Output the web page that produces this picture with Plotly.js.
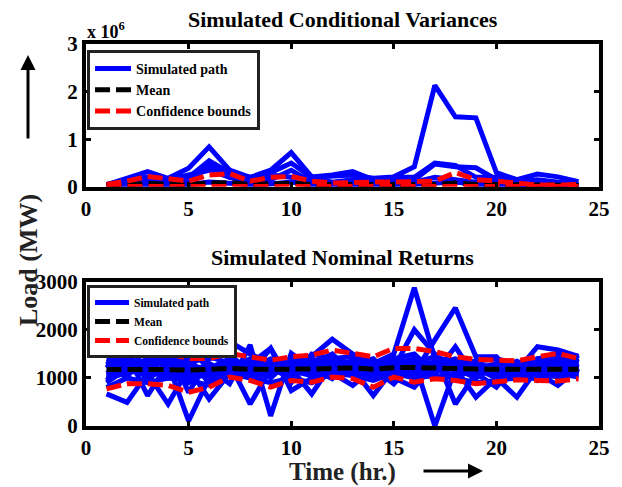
<!DOCTYPE html>
<html>
<head>
<meta charset="utf-8">
<script src="https://cdn.plot.ly/plotly-3.0.1.min.js"></script>
<style>html,body{margin:0;padding:0;background:#fff;}#chart{width:622px;height:487px;}</style>
</head>
<body>
<div id="chart"></div>
<script>
// Hours
const hours = [1,2,3,4,5,6,7,8,9,10,11,12,13,14,15,16,17,18,19,20,21,22,23,24];

// Simulated conditional variances (units of 10^6)
const varPath1 = [0.05,0.15,0.20,0.15,0.25,0.35,0.20,0.15,0.25,0.20,0.20,0.22,0.25,0.18,0.21,0.42,2.13,1.47,1.45,0.30,0.15,0.27,0.21,0.11];
const varPath2 = [0.04,0.18,0.32,0.18,0.39,0.84,0.35,0.20,0.35,0.72,0.21,0.25,0.32,0.15,0.20,0.20,0.50,0.45,0.20,0.20,0.10,0.15,0.10,0.05];
const varPath3 = [0.03,0.10,0.15,0.12,0.20,0.55,0.30,0.20,0.30,0.50,0.20,0.10,0.15,0.10,0.12,0.15,0.48,0.42,0.40,0.15,0.10,0.08,0.06,0.05];
const varPath4 = [0.02,0.08,0.10,0.06,0.10,0.45,0.20,0.10,0.15,0.35,0.10,0.08,0.10,0.08,0.10,0.10,0.20,0.15,0.10,0.10,0.05,0.05,0.04,0.03];
const varPath5 = [0.01,0.03,0.05,0.04,0.05,0.10,0.08,0.05,0.06,0.10,0.05,0.04,0.05,0.04,0.05,0.05,0.08,0.10,0.05,0.05,0.03,0.02,0.02,0.02];
const varMean  = [0.03,0.05,0.07,0.06,0.05,0.08,0.09,0.05,0.07,0.08,0.05,0.04,0.05,0.05,0.05,0.05,0.05,0.08,0.05,0.05,0.04,0.03,0.03,0.03];
const varUpper = [0.05,0.12,0.22,0.18,0.12,0.25,0.28,0.12,0.20,0.22,0.12,0.08,0.10,0.10,0.10,0.12,0.12,0.30,0.15,0.12,0.08,0.04,0.04,0.05];
const varLower = [0.01,0.01,0.01,0.01,0.01,0.01,0.01,0.01,0.01,0.01,0.01,0.01,0.01,0.01,0.01,0.01,0.01,0.01,0.01,0.01,0.01,0.01,0.01,0.01];

// Simulated nominal returns (MW)
const retPaths = [
  [1450,1807,1400,1617,1300,1550,1758,1500,1300,1350,1450,1807,1500,1300,1500,2880,1400,1300,1200,1300,1150,1652,1582,1450],
  [668,492,1100,457,1200,563,1100,1300,1617,738,1000,1100,844,1200,879,1350,0,1200,598,1000,598,1200,1100,1020],
  [1200,1500,633,1300,105,1000,1300,457,1200,1200,668,1300,1200,633,1200,2004,1500,457,1100,809,1300,1100,844,1200],
  [1300,1000,1723,1100,1617,1200,879,1688,211,1512,1200,985,1400,1100,1300,1100,1793,2460,1442,1442,1000,1300,1400,1300],
  [900,1200,1300,1617,700,1400,1500,1100,1617,900,1500,1400,1300,1400,1000,809,1300,1000,1200,1100,1200,949,1300,1100],
  [1400,1300,1100,1200,1400,900,1200,1400,1000,1400,1300,1500,1100,1300,1400,1500,1100,1650,1000,1300,1100,1400,1200,1477],
  [1000,1100,1200,1000,1100,1300,1100,1200,1300,1100,1200,1200,1300,1000,1200,1300,1200,1200,1300,1200,1300,1200,1100,1300],
  [1100,1300,1000,1200,1000,1100,1300,1000,1100,1300,1100,1300,1200,1200,1100,1200,1000,1100,1100,1300,1200,1300,1200,1100],
  [1300,1200,1400,1300,1200,1000,1200,1300,1200,1000,1400,1200,1100,1300,1300,1000,1300,1400,1200,1000,1100,1100,1300,1250],
  [1500,1400,1200,1450,1300,1450,1300,1200,1400,1300,1350,1400,1450,1250,1400,1300,1450,1300,1350,1400,1300,1400,1500,1350],
  [800,1000,900,1000,950,850,1100,1000,900,1000,900,1100,1050,950,1100,1000,1050,1000,900,950,1000,1000,1050,1050],
  [1250,1400,1300,1100,1250,1200,1400,1250,1150,1250,1300,1350,1250,1200,1300,1400,1250,1300,1250,1150,1250,1300,1350,1200],
  [1050,1150,1250,1350,1100,1250,1050,1350,1250,1150,1050,1250,1350,1150,1250,1150,1350,1200,1000,1250,1150,1250,1000,1150],
  [1350,1100,1300,1050,1350,1050,1250,1100,1350,1250,1200,1100,1250,1350,1050,1300,1100,1350,1150,1200,1350,1150,1250,1300],
  [950,1250,1100,1250,900,1150,1350,1050,1100,1200,1250,1200,1100,1100,1200,1100,1200,1050,1300,1100,1050,1250,1150,1400]
];
const retMean  = [1175,1180,1175,1175,1165,1175,1200,1180,1170,1185,1185,1205,1210,1180,1215,1220,1200,1195,1185,1180,1180,1195,1185,1180];
const retUpper = [1512,1477,1477,1512,1406,1406,1512,1442,1371,1442,1477,1582,1512,1442,1617,1617,1547,1442,1385,1371,1357,1442,1512,1406];
const retLower = [774,879,879,844,703,809,1020,949,809,949,914,1020,985,809,1020,914,985,949,879,914,963,949,935,985];

const FONT = "'Liberation Serif', 'Times New Roman', Times, serif";
const BLUE = '#0000ff', RED = '#ff0000';
const DASH = '15px,6px';
const LW = 5;

const traces = [];
[varPath1,varPath2,varPath3,varPath4,varPath5].forEach((p,i)=>{
  traces.push({x:hours,y:p,mode:'lines',line:{color:BLUE,width:LW},name:'Simulated path',
    showlegend:i===0,legend:'legend',xaxis:'x',yaxis:'y'});
});
traces.push({x:hours,y:varMean,mode:'lines',line:{color:'#000',width:LW,dash:DASH},name:'Mean',legend:'legend',xaxis:'x',yaxis:'y'});
traces.push({x:hours,y:varUpper,mode:'lines',line:{color:RED,width:LW,dash:DASH},name:'Confidence bounds',legend:'legend',xaxis:'x',yaxis:'y'});
traces.push({x:hours,y:varLower,mode:'lines',line:{color:RED,width:LW,dash:DASH},name:'Confidence bounds',showlegend:false,xaxis:'x',yaxis:'y'});

retPaths.forEach((p,i)=>{
  traces.push({x:hours,y:p,mode:'lines',line:{color:BLUE,width:LW},name:'Simulated path',
    showlegend:i===0,legend:'legend2',xaxis:'x2',yaxis:'y2'});
});
traces.push({x:hours,y:retMean,mode:'lines',line:{color:'#000',width:LW,dash:DASH},name:'Mean',legend:'legend2',xaxis:'x2',yaxis:'y2'});
traces.push({x:hours,y:retUpper,mode:'lines',line:{color:RED,width:LW,dash:DASH},name:'Confidence bounds',legend:'legend2',xaxis:'x2',yaxis:'y2'});
traces.push({x:hours,y:retLower,mode:'lines',line:{color:RED,width:LW,dash:DASH},name:'Confidence bounds',showlegend:false,xaxis:'x2',yaxis:'y2'});

const tickFont = {family:FONT,size:21,color:'#000',weight:'bold'};
const axBase = {showline:true,linewidth:4,linecolor:'#000',mirror:'allticks',ticks:'inside',ticklen:5,tickwidth:3,
  tickcolor:'#000',showgrid:false,zeroline:false,tickfont:tickFont,fixedrange:true};

// pixel helpers for annotation placement (plot area: x 86..599, y 44..426)
const PX = v => (v-86)/513;
const PY = v => (426-v)/382;

const layout = {
  width:622,height:487,
  margin:{l:86,r:23,t:44,b:61},
  paper_bgcolor:'#fff',plot_bgcolor:'#fff',
  font:{family:FONT,color:'#000'},
  xaxis:Object.assign({},axBase,{domain:[0,1],range:[0,25],tickvals:[0,5,10,15,20,25],anchor:'y'}),
  yaxis:Object.assign({},axBase,{domain:[0.626,1],range:[0,3],tickvals:[0,1,2,3],anchor:'x'}),
  xaxis2:Object.assign({},axBase,{domain:[0,1],range:[0,25],tickvals:[0,5,10,15,20,25],anchor:'y2'}),
  yaxis2:Object.assign({},axBase,{domain:[0,0.377],range:[0,3000],tickvals:[0,1000,2000,3000],anchor:'x2'}),
  legend:{x:0.002,y:PY(50),xanchor:'left',yanchor:'top',bgcolor:'#fff',bordercolor:'#222',borderwidth:3,itemwidth:36,
    font:{family:FONT,size:14,color:'#000',weight:'bold'},tracegroupgap:0},
  legend2:{x:0.002,y:PY(285),xanchor:'left',yanchor:'top',bgcolor:'#fff',bordercolor:'#222',borderwidth:3,itemwidth:34,
    font:{family:FONT,size:11.5,color:'#000',weight:'bold'},tracegroupgap:0},
  annotations:[
    {text:'Simulated Conditional Variances',xref:'paper',yref:'paper',x:0.5,y:PY(20),showarrow:false,
      font:{family:FONT,size:22,weight:'bold'},xanchor:'center',yanchor:'middle'},
    {text:'Simulated Nominal Returns',xref:'paper',yref:'paper',x:0.5,y:PY(257),showarrow:false,
      font:{family:FONT,size:22,weight:'bold'},xanchor:'center',yanchor:'middle'},
    {text:'x 10<sup>6</sup>',xref:'paper',yref:'paper',x:PX(85),y:PY(31),showarrow:false,
      font:{family:FONT,size:18,weight:'bold'},xanchor:'left',yanchor:'middle'},
    {text:'Load (MW)',xref:'paper',yref:'paper',x:PX(28),y:PY(260),showarrow:false,textangle:-90,
      font:{family:FONT,size:26,weight:'bold',color:'#222'},xanchor:'center',yanchor:'middle'},
    {text:'Time (hr.)',xref:'paper',yref:'paper',x:PX(342),y:PY(472),showarrow:false,
      font:{family:FONT,size:25,weight:'bold',color:'#222'},xanchor:'center',yanchor:'middle'},
    {text:'',xref:'paper',yref:'paper',x:PX(28),y:PY(55),ax:0,ay:85,showarrow:true,
      arrowhead:2,arrowsize:1,arrowwidth:3,arrowcolor:'#000'},
    {text:'',xref:'paper',yref:'paper',x:PX(483),y:PY(471),ax:-61,ay:0,showarrow:true,
      arrowhead:2,arrowsize:1,arrowwidth:3,arrowcolor:'#000'}
  ]
};

Plotly.newPlot('chart',traces,layout,{displayModeBar:false,staticPlot:true});
</script>
</body>
</html>
